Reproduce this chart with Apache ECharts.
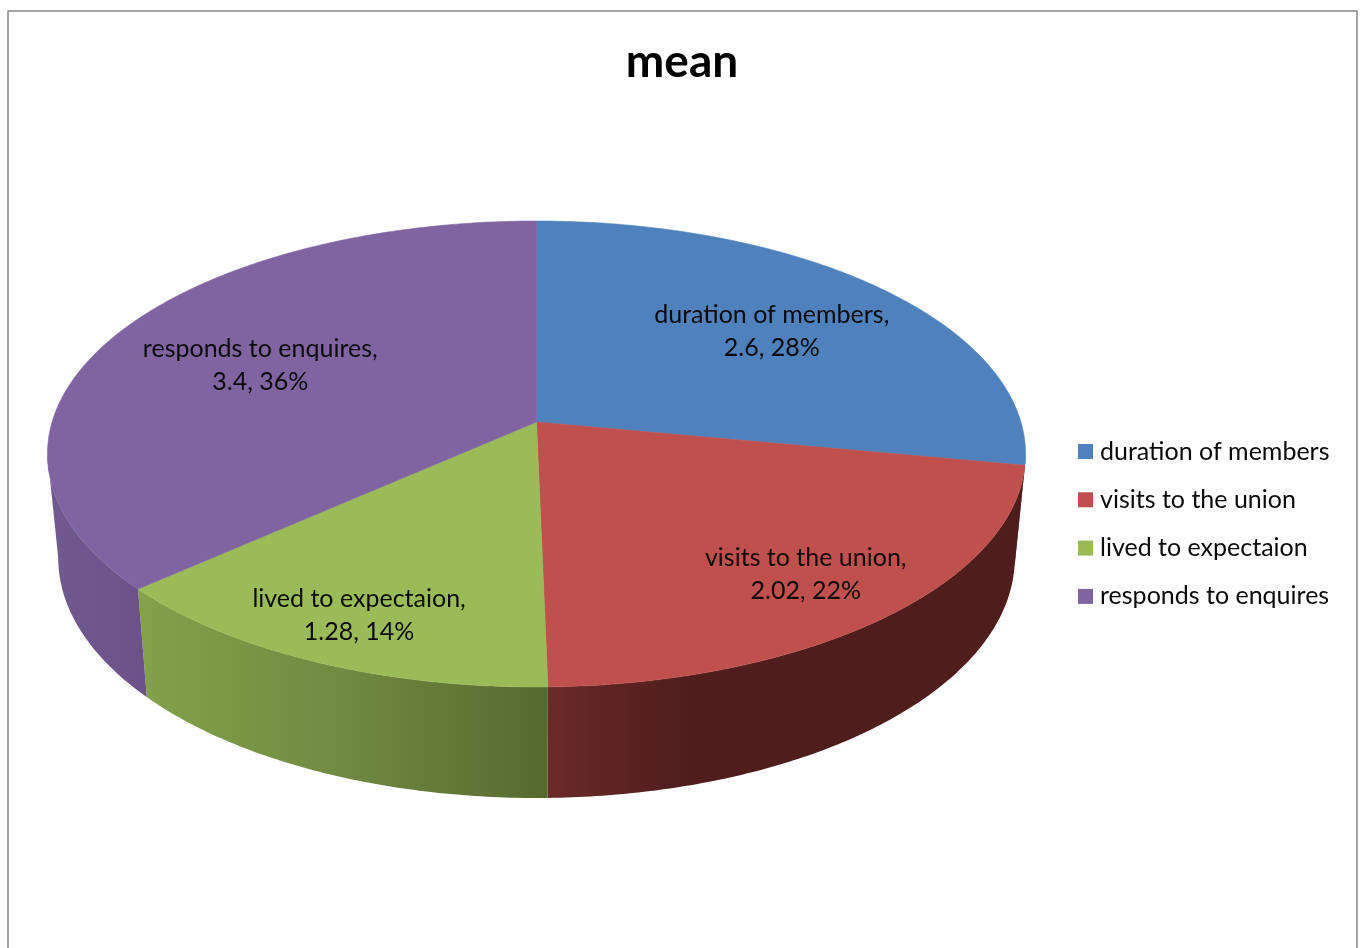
<!DOCTYPE html>
<html><head><meta charset="utf-8">
<style>html,body{margin:0;padding:0;background:#fff}#c{width:1364px;height:948px}</style>
<script src="https://cdn.jsdelivr.net/npm/echarts@6/dist/echarts.min.js"></script>
</head><body><div id="c"></div>
<script>
const categories = ['duration of members','visits to the union','lived to expectaion','responds to enquires'];
const values = [2.6, 2.02, 1.28, 3.4];
const percentLabels = [28, 22, 14, 36];
const topColors = ['#4f81bd','#c0504d','#9bbb59','#8064a2'];
const wallStops = [
  [[0,'#2f4d71'],[1,'#2f4d71']],
  [[0,'#6a2a28'],[0.3,'#4e1d1c'],[1,'#4e1d1c']],
  [[0,'#83a249'],[0.5,'#708a41'],[1,'#56692e']],
  [[0,'#705a8f'],[1,'#6a5288']]
];
const labelRadii = [0.668, 0.789, 0.82, 0.648];

// Projection of the unit disc onto the tilted pie's top face
const CX = 536.5, APEX_Y = 422, K = 484.4, A = -170.65, C = 0.1373;
const FRONT_Y = 687, DEPTH = 111, BOTTOM_SX = 0.978, BOTTOM_SY = 1.03;
const FONT = '25px Lato, "Open Sans", sans-serif';
// The wall is only visible between the two silhouette points of the rim
const WALL_FROM = Math.acos(-C), WALL_TO = 2 * Math.PI - WALL_FROM;

const total = values.reduce((a, b) => a + b, 0);
const starts = [];
values.reduce((acc, v, i) => { starts[i] = acc; return acc + v; }, 0);
const angle = v => v / total * 2 * Math.PI;
function project(theta, r) {
  const u = r * Math.sin(theta), v = r * Math.cos(theta), d = 1 + C * v;
  return [CX + K * u / d, (APEX_Y + A * v) / d];
}
function toBottom(p) {
  return [CX + (p[0] - CX) * BOTTOM_SX, FRONT_Y + DEPTH + (p[1] - FRONT_Y) * BOTTOM_SY];
}
function arc(a0, a1) {
  const n = Math.max(8, Math.ceil((a1 - a0) * 90)), pts = [];
  for (let k = 0; k <= n; k++) pts.push(project(a0 + (a1 - a0) * k / n, 1));
  return pts;
}
const sliceFrom = i => angle(starts[i]);
const sliceTo = i => angle(starts[i] + values[i]);
function renderWall(params) {
  const i = params.dataIndex;
  const a0 = Math.max(sliceFrom(i), WALL_FROM), a1 = Math.min(sliceTo(i), WALL_TO);
  if (a1 <= a0) return null;
  const top = arc(a0, a1);
  return {
    type: 'polygon',
    shape: { points: top.concat(top.map(toBottom).reverse()) },
    style: {
      fill: { type: 'linear', x: 0, y: 0, x2: 1, y2: 0,
        colorStops: wallStops[i].map(s => ({ offset: s[0], color: s[1] })) }
    }
  };
}
function renderTop(i) {
  const mid = angle(starts[i] + values[i] / 2), pos = project(mid, labelRadii[i]);
  return {
    type: 'group',
    children: [
      { type: 'polygon', shape: { points: [project(0, 0)].concat(arc(sliceFrom(i), sliceTo(i))) },
        style: { fill: topColors[i], stroke: topColors[i], lineWidth: 0.6 } },
      { type: 'text', z2: 10, style: {
          x: pos[0], y: pos[1] + 2, align: 'center', verticalAlign: 'middle',
          text: categories[i] + ',\n' + values[i] + ', ' + percentLabels[i] + '%',
          font: FONT, lineHeight: 33, fill: '#0a0a0a' } }
    ]
  };
}
const series = [{
  type: 'custom', name: 'walls', coordinateSystem: 'none', z: 1, silent: true, clip: false,
  renderItem: renderWall, data: values.map(v => [v])
}].concat(categories.map((name, i) => ({
  type: 'custom', name, coordinateSystem: 'none', z: 2, silent: true, clip: false,
  itemStyle: { color: topColors[i] },
  renderItem: () => renderTop(i), data: [[values[i]]]
})));

const chart = echarts.init(document.getElementById('c'), null, { renderer: 'canvas' });
chart.setOption({
  animation: false,
  backgroundColor: '#fff',
  title: { text: 'mean', left: 682, top: 33, padding: 0, textAlign: 'center',
    textStyle: { fontFamily: 'Lato', fontWeight: 'bold', fontSize: 46, color: '#000', lineHeight: 58 } },
  legend: {
    data: categories.map(name => ({ name, icon: 'rect' })), orient: 'vertical', left: 1078, top: 436.5, padding: 0,
    itemWidth: 15, itemHeight: 15, itemGap: 18.3, selectedMode: false,
    textStyle: { fontFamily: 'Lato', fontSize: 25, color: '#0a0a0a', lineHeight: 30, padding: [0, 0, 0, 2] }
  },
  graphic: [{ type: 'polyline', silent: true, z: 0,
    shape: { points: [[8, 948], [8, 11], [1357, 11], [1357, 948]] },
    style: { stroke: '#868686', lineWidth: 1.5, fill: null } }],
  series
});
</script></body></html>
